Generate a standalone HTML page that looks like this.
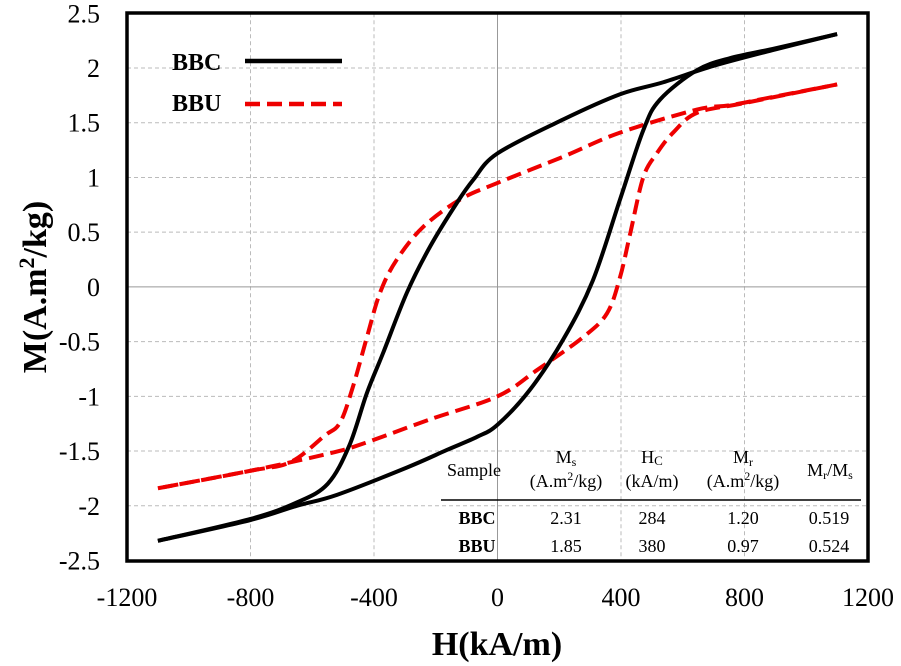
<!DOCTYPE html>
<html><head><meta charset="utf-8"><style>
html,body{margin:0;padding:0;background:#fff;}
svg{display:block;font-family:"Liberation Serif",serif;}
</style></head><body>
<svg width="901" height="666" viewBox="0 0 901 666">
<g id="grid"></g>
<g id="axes"></g>
<g id="series"></g>
<rect x="127" y="13" width="741" height="548" fill="none" stroke="#000" stroke-width="3.5"/>
<g>
<text x="172" y="70" font-size="24" font-weight="bold">BBC</text>
<line x1="245" y1="61" x2="342" y2="61" stroke="#000" stroke-width="4.5"/>
<text x="172" y="111" font-size="24" font-weight="bold">BBU</text>
<line x1="245" y1="104" x2="342" y2="104" stroke="#e00" stroke-width="4.5" stroke-dasharray="15,7"/>
</g>
<g font-size="18" text-anchor="middle">
<text x="474" y="476">Sample</text>
<text x="566" y="463">M<tspan font-size="12" dy="3">s</tspan></text>
<text x="566" y="487">(A.m<tspan font-size="12" dy="-7">2</tspan><tspan dy="7">/kg)</tspan></text>
<text x="652" y="463">H<tspan font-size="13" dy="2">C</tspan></text>
<text x="652" y="487">(kA/m)</text>
<text x="743" y="463">M<tspan font-size="12" dy="3">r</tspan></text>
<text x="743" y="487">(A.m<tspan font-size="12" dy="-7">2</tspan><tspan dy="7">/kg)</tspan></text>
<text x="830" y="476">M<tspan font-size="12" dy="3">r</tspan><tspan dy="-3">/M</tspan><tspan font-size="12" dy="3">s</tspan></text>
<line x1="441" y1="500" x2="861" y2="500" stroke="#000" stroke-width="1.5"/>
<text x="477" y="524" font-weight="bold">BBC</text>
<text x="566" y="524">2.31</text>
<text x="652" y="524">284</text>
<text x="743" y="524">1.20</text>
<text x="829" y="524">0.519</text>
<text x="477" y="552" font-weight="bold">BBU</text>
<text x="566" y="552">1.85</text>
<text x="652" y="552">380</text>
<text x="743" y="552">0.97</text>
<text x="829" y="552">0.524</text>
</g>
<text x="497" y="655" font-size="34" font-weight="bold" text-anchor="middle">H(kA/m)</text>
<text transform="translate(46,287) rotate(-90)" font-size="34" font-weight="bold" text-anchor="middle">M(A.m<tspan font-size="22" dy="-12">2</tspan><tspan dy="12">/kg)</tspan></text>
</svg>
<script>
const xTicks=[-1200,-800,-400,0,400,800,1200];
const yTicks=[2.5,2,1.5,1,0.5,0,-0.5,-1,-1.5,-2,-2.5];
const yTickLabels=["2.5","2","1.5","1","0.5","0","-0.5","-1","-1.5","-2","-2.5"];
const bbcUpperH=[1100,900,700,537,397,213,0,-78,-131,-218,-293,-370,-423,-480,-550,-650,-800,-1100];
const bbcUpperM=[2.31,2.17,2.02,1.87,1.76,1.53,1.22,0.98,0.77,0.37,-0.05,-0.6,-0.97,-1.45,-1.8,-1.97,-2.12,-2.32];
const bbcLowerH=[-1100,-800,-650,-520,-293,-164,-66,0,105,213,309,397,472,526,646,753,900,1100];
const bbcLowerM=[-2.32,-2.13,-2.0,-1.9,-1.65,-1.49,-1.37,-1.26,-0.94,-0.48,0.06,0.8,1.43,1.71,1.98,2.09,2.18,2.31];
const bbuUpperH=[1100,900,753,646,397,213,0,-120,-240,-326,-380,-423,-468,-510,-560,-670,-800,-1100];
const bbuUpperM=[1.85,1.74,1.66,1.62,1.41,1.19,0.95,0.8,0.55,0.25,-0.05,-0.46,-0.91,-1.24,-1.36,-1.6,-1.68,-1.84];
const bbuLowerH=[-1100,-800,-542,-433,-218,0,128,277,355,397,430,472,516,569,646,800,1100];
const bbuLowerM=[-1.84,-1.68,-1.52,-1.43,-1.21,-1.0,-0.76,-0.46,-0.24,0.09,0.49,1.0,1.22,1.41,1.59,1.68,1.85];
const NS="http://www.w3.org/2000/svg";
const X0=127,X1=868,Y0=13.3,Y1=560.5;
function sx(h){return X0+(h+1200)/2400*(X1-X0);}
function sy(m){return Y0+(2.5-m)/5*(Y1-Y0);}
function mk(tag,attrs,parent){const e=document.createElementNS(NS,tag);for(const k in attrs)e.setAttribute(k,attrs[k]);parent.appendChild(e);return e;}
const grid=document.getElementById('grid'),axes=document.getElementById('axes'),series=document.getElementById('series');
xTicks.forEach(t=>{
  if(t>-1200&&t<1200){const l=mk('line',{x1:sx(t),x2:sx(t),y1:Y0,y2:Y1,stroke:t===0?'#999':'#bbb','stroke-width':1,'stroke-dasharray':t===0?'':'4,3'},grid);
  
  }
  const tx=mk('text',{x:sx(t),y:606,'font-size':26,'text-anchor':'middle'},axes);tx.textContent=String(t);
  
  
});
yTicks.forEach((t,i)=>{
  if(t<2.5&&t>-2.5){const l=mk('line',{x1:X0,x2:X1,y1:sy(t),y2:sy(t),stroke:t===0?'#999':'#bbb','stroke-width':1,'stroke-dasharray':t===0?'':'4,3'},grid);
  
  }
  const tx=mk('text',{x:100,y:sy(t)+9,'font-size':26,'text-anchor':'end'},axes);tx.textContent=yTickLabels[i];
  
  
});
function pathD(H,M){const p=H.map((h,i)=>[sx(h),sy(M[i])]);let d='M'+p[0][0]+','+p[0][1];
  for(let i=0;i<p.length-1;i++){const a=p[i-1]||p[i],b=p[i],c=p[i+1],e=p[i+2]||c;
    const c1=[b[0]+(c[0]-a[0])/6,b[1]+(c[1]-a[1])/6],c2=[c[0]-(e[0]-b[0])/6,c[1]-(e[1]-b[1])/6];
    d+=' C'+c1+' '+c2+' '+c;}return d;}
function draw(H,M,color,dash,name){const p=mk('path',{d:pathD(H,M),fill:'none',stroke:color,'stroke-width':4,'stroke-dasharray':dash,'stroke-linejoin':'round'},series);
  
  }
draw(bbuUpperH,bbuUpperM,'#e00','15,7','bbu-upper-branch');
draw(bbuLowerH,bbuLowerM,'#e00','15,7','bbu-lower-branch');
draw(bbcUpperH,bbcUpperM,'#000','','bbc-upper-branch');
draw(bbcLowerH,bbcLowerM,'#000','','bbc-lower-branch');
</script>
</body></html>
